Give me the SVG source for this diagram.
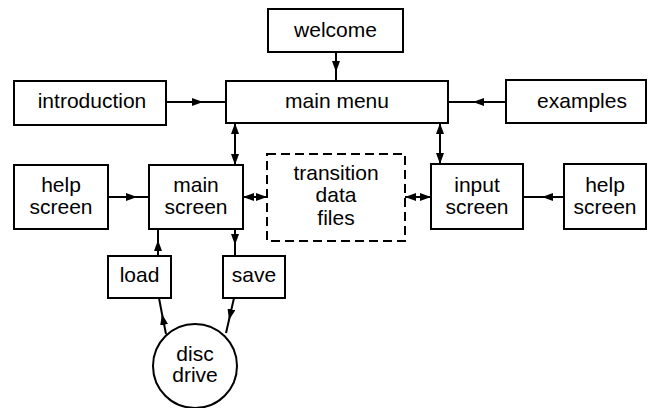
<svg xmlns="http://www.w3.org/2000/svg" width="649" height="408" viewBox="0 0 649 408">
<style>
.box{fill:#fff;stroke:#000;stroke-width:2}
.dash{fill:#fff;stroke:#000;stroke-width:2;stroke-dasharray:9 5}
.t{font-family:"Liberation Sans",Arial,sans-serif;font-size:21px;fill:#000;text-anchor:middle}
.c{fill:none;stroke:#000;stroke-width:2}
.m{marker-mid:url(#ah)}
.d{marker-start:url(#ah2);marker-end:url(#ah)}
</style>
<defs>
<marker id="ah" markerUnits="userSpaceOnUse" markerWidth="11" markerHeight="8" refX="11" refY="4" orient="auto"><path d="M0,0 L11,4 L0,8 z" fill="#000"/></marker>
<marker id="ah2" markerUnits="userSpaceOnUse" markerWidth="11" markerHeight="8" refX="11" refY="4" orient="auto-start-reverse"><path d="M0,0 L11,4 L0,8 z" fill="#000"/></marker>
</defs>
<g id="connectors">
<path class="c m" d="M336,52 L336,72 L336,81"/>
<path class="c m" d="M166,102 L203,102 L226,102"/>
<path class="c m" d="M506,102 L473,102 L448,102"/>
<path class="c m" d="M108,197 L137,197 L149,197"/>
<path class="c m" d="M564,197 L542,197 L523,197"/>
<path class="c m" d="M158,256 L158,240 L158,229"/>
<path class="c m" d="M235,229 L235,245 L235,256"/>
<path class="c m" d="M166,334 L162,314 L159,298"/>
<path class="c m" d="M234,298 L229,320 L226,333"/>
<path class="c d" d="M235,123 L235,165"/>
<path class="c d" d="M440,123 L440,164"/>
<path class="c d" d="M243,197 L267,197"/>
<path class="c d" d="M405,197 L431,197"/>
</g>
<g id="welcome"><rect class="box" x="268" y="9" width="135" height="43"/><text class="t" x="335.5" y="37">welcome</text></g>
<g id="main-menu"><rect class="box" x="226" y="81" width="222" height="42"/><text class="t" x="337" y="108">main menu</text></g>
<g id="introduction"><rect class="box" x="14" y="81" width="152" height="44"/><text class="t" x="92" y="108">introduction</text></g>
<g id="examples"><rect class="box" x="506" y="80" width="140" height="43"/><text class="t" x="582" y="108">examples</text></g>
<g id="help-left"><rect class="box" x="14" y="165" width="94" height="64"/><text class="t" x="61" y="192">help</text><text class="t" x="61" y="214">screen</text></g>
<g id="main-screen"><rect class="box" x="149" y="165" width="94" height="64"/><text class="t" x="196" y="192">main</text><text class="t" x="196" y="214">screen</text></g>
<g id="transition"><rect class="dash" x="267" y="154" width="138" height="87"/><text class="t" x="336" y="180">transition</text><text class="t" x="336" y="202">data</text><text class="t" x="336" y="225">files</text></g>
<g id="input-screen"><rect class="box" x="431" y="164" width="92" height="65"/><text class="t" x="477" y="192">input</text><text class="t" x="477" y="214">screen</text></g>
<g id="help-right"><rect class="box" x="564" y="164" width="82" height="65"/><text class="t" x="605" y="192">help</text><text class="t" x="605" y="214">screen</text></g>
<g id="load"><rect class="box" x="108" y="256" width="63" height="42"/><text class="t" x="139.5" y="282">load</text></g>
<g id="save"><rect class="box" x="223" y="256" width="62" height="42"/><text class="t" x="254" y="282">save</text></g>
<g id="disc-drive"><circle class="box" cx="195" cy="366" r="42"/><text class="t" x="195" y="361">disc</text><text class="t" x="195" y="382">drive</text></g>
</svg>
